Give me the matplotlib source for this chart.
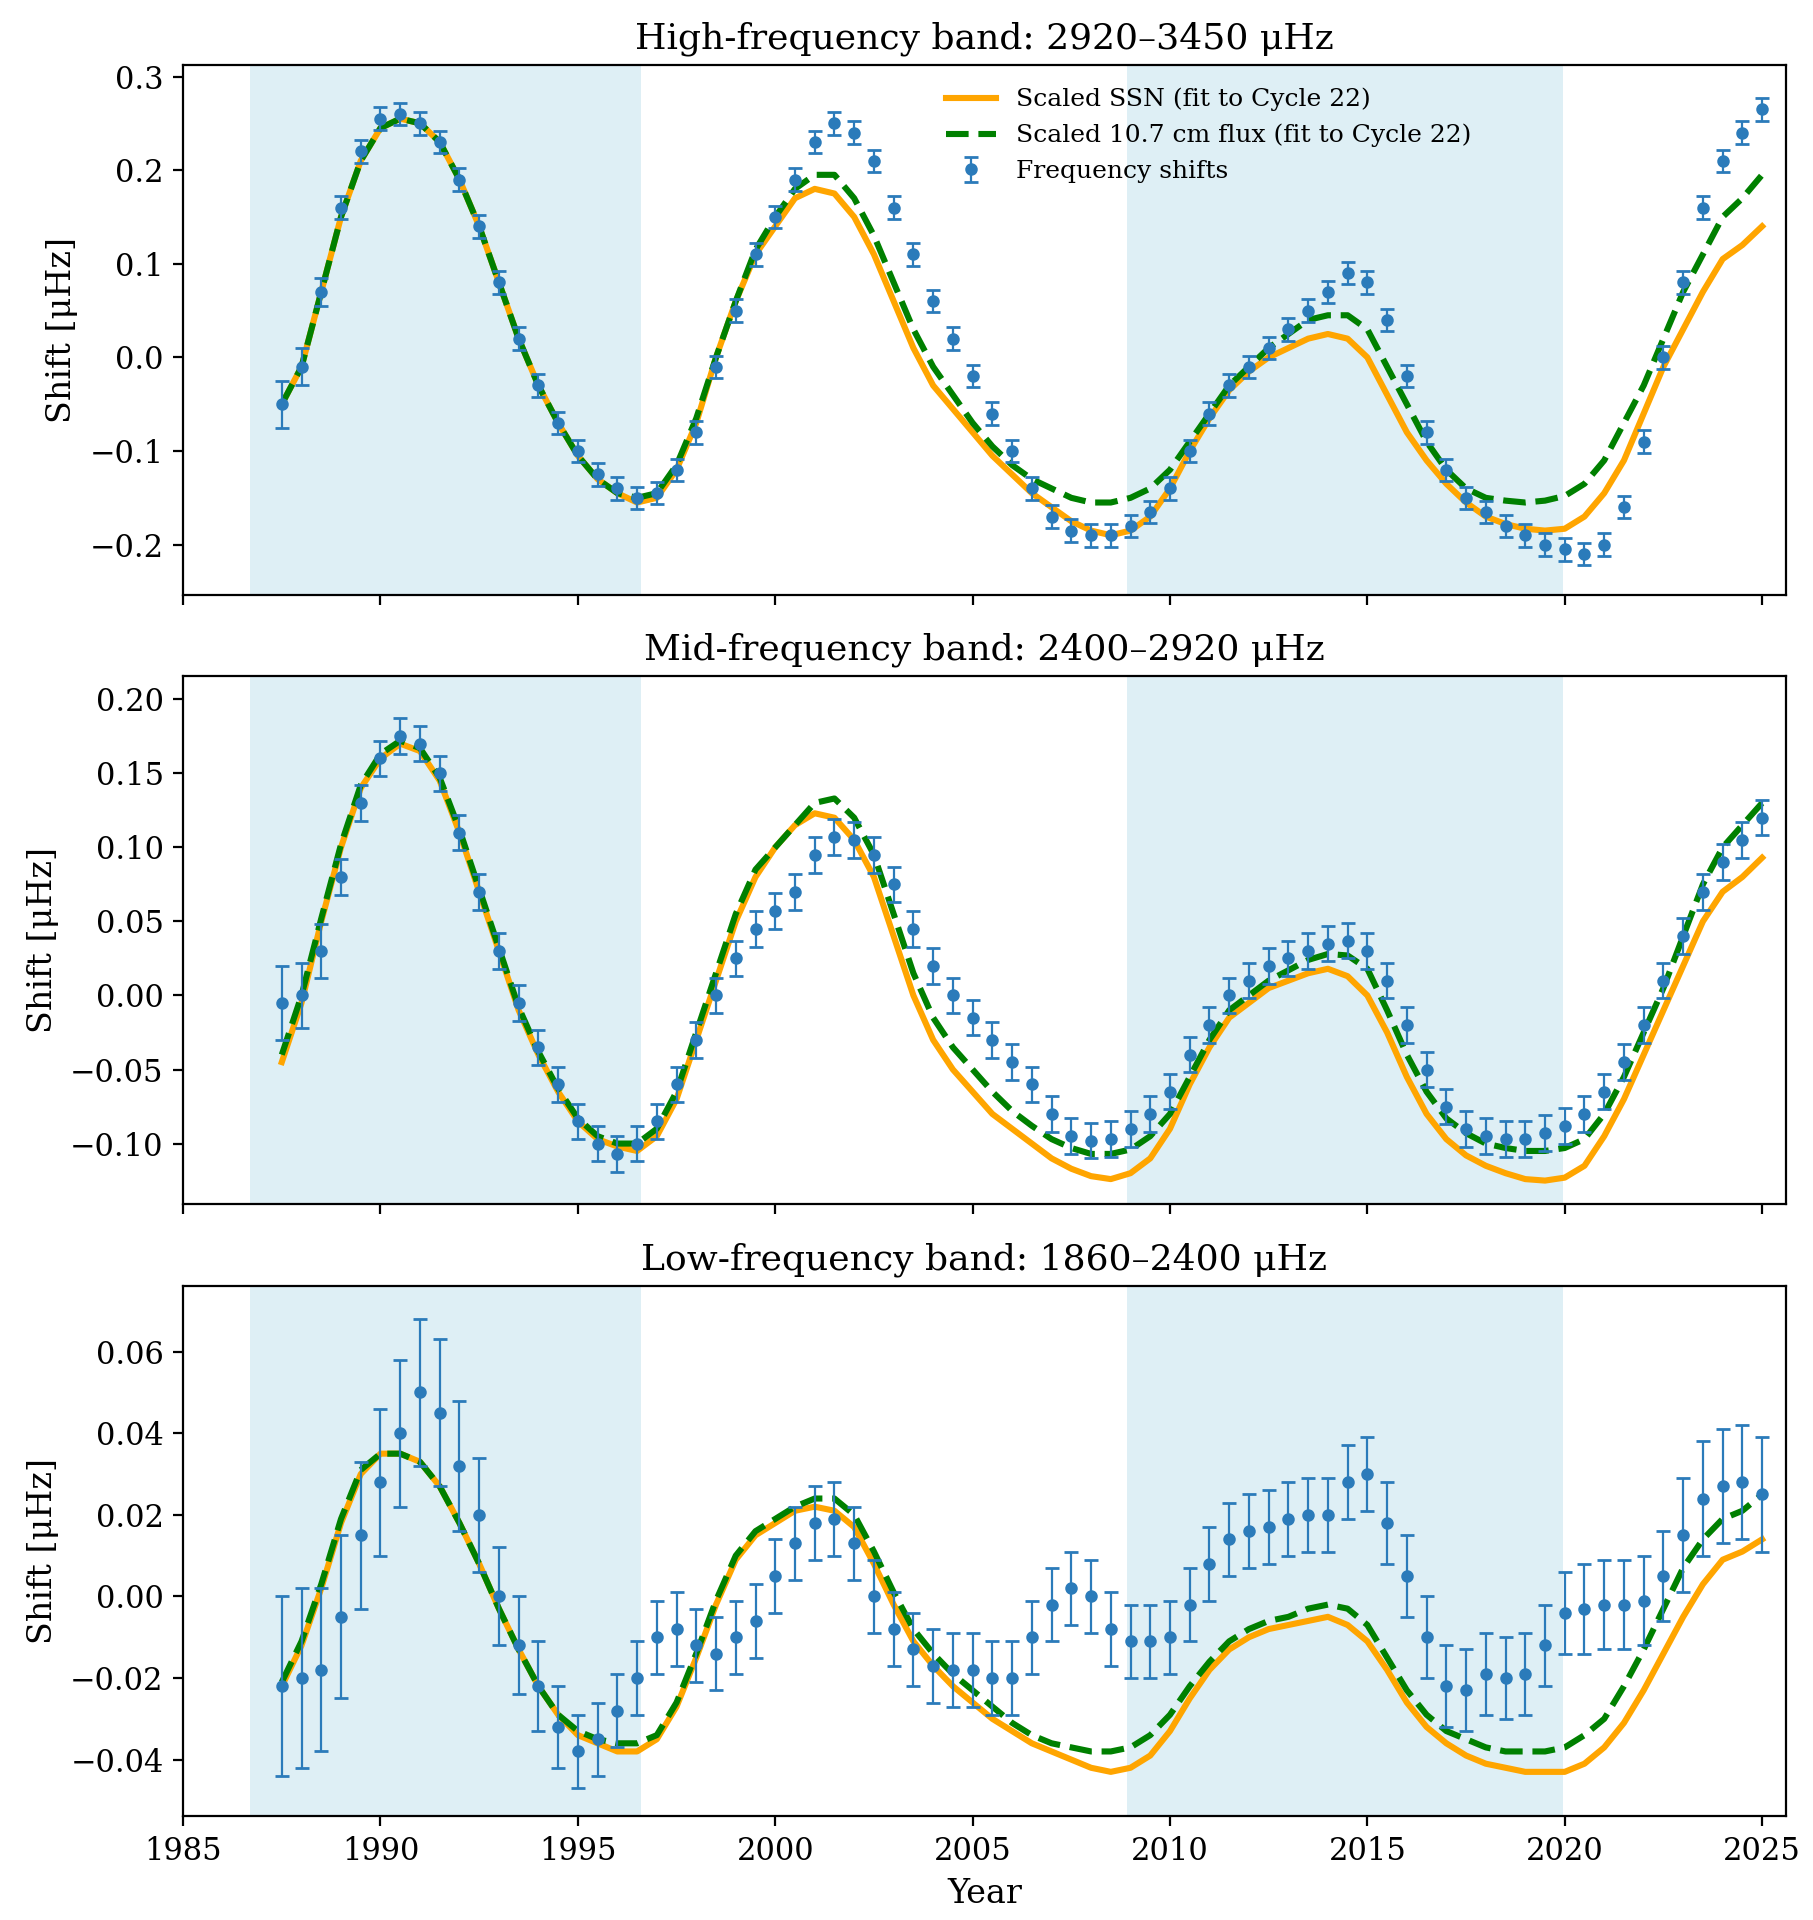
import numpy as np
import matplotlib
matplotlib.use("Agg")
import matplotlib.pyplot as plt

plt.rcParams['font.family'] = ['DejaVu Serif']

years = np.arange(1987.5, 2025.01, 0.5)

hi_shift = [-0.05,-0.01,0.07,0.16,0.22, 0.255,0.26,0.25,0.23,0.19,0.14,0.08,0.02,-0.03,-0.07,
            -0.10,-0.125,-0.14,-0.15,-0.145,-0.12,-0.08,-0.01,0.05,0.11,
            0.15,0.19,0.23,0.25,0.24,0.21,0.16,0.11,0.06,0.02,
            -0.02,-0.06,-0.10,-0.14,-0.17,-0.185,-0.19,-0.19,-0.18,-0.165,
            -0.14,-0.10,-0.06,-0.03,-0.01,0.01,0.03,0.05,0.07,0.09,
            0.08,0.04,-0.02,-0.08,-0.12,-0.15,-0.165,-0.18,-0.19,-0.2,
            -0.205,-0.21,-0.2,-0.16,-0.09,0.0,0.08,0.16,0.21,0.24,0.265]
hi_ssn = [-0.05,-0.01,0.07,0.15,0.21, 0.245,0.255,0.25,0.23,0.19,0.14,0.08,0.02,-0.03,-0.07,
          -0.105,-0.13,-0.145,-0.155,-0.15,-0.12,-0.07,0.0,0.06,0.11,
          0.14,0.17,0.18,0.175,0.15,0.11,0.06,0.01,-0.03,-0.055,
          -0.08,-0.105,-0.125,-0.145,-0.16,-0.175,-0.185,-0.19,-0.185,-0.17,
          -0.14,-0.10,-0.065,-0.035,-0.015,0.0,0.01,0.02,0.025,0.02,
          0.0,-0.04,-0.08,-0.11,-0.135,-0.155,-0.17,-0.178,-0.183,-0.185,
          -0.183,-0.17,-0.145,-0.11,-0.06,-0.01,0.03,0.07,0.105,0.12,0.14]
hi_flux = [-0.05,-0.01,0.07,0.15,0.21, 0.245,0.255,0.25,0.23,0.19,0.14,0.08,0.02,-0.03,-0.07,
           -0.105,-0.13,-0.145,-0.15,-0.145,-0.115,-0.065,0.0,0.06,0.115,
           0.15,0.18,0.195,0.195,0.17,0.13,0.08,0.03,-0.01,-0.04,
           -0.07,-0.095,-0.115,-0.13,-0.14,-0.15,-0.155,-0.155,-0.15,-0.14,
           -0.12,-0.09,-0.06,-0.03,-0.01,0.01,0.025,0.04,0.045,0.045,
           0.03,-0.01,-0.05,-0.09,-0.12,-0.14,-0.15,-0.153,-0.155,-0.153,
           -0.148,-0.135,-0.11,-0.07,-0.03,0.02,0.07,0.11,0.15,0.17,0.195]

mid_shift = [-0.005,0.0,0.03,0.08,0.13, 0.16,0.175,0.17,0.15,0.11,0.07,0.03,-0.005,-0.035,-0.06,
             -0.085,-0.1,-0.107,-0.1,-0.085,-0.06,-0.03,0.0,0.025,0.045,
             0.057,0.07,0.095,0.107,0.105,0.095,0.075,0.045,0.02,0.0,
             -0.015,-0.03,-0.045,-0.06,-0.08,-0.095,-0.098,-0.097,-0.09,-0.08,
             -0.065,-0.04,-0.02,0.0,0.01,0.02,0.025,0.03,0.035,0.037,
             0.03,0.01,-0.02,-0.05,-0.075,-0.09,-0.095,-0.097,-0.097,-0.093,
             -0.088,-0.08,-0.065,-0.045,-0.02,0.01,0.04,0.07,0.09,0.105,0.12]
mid_ssn = [-0.045,-0.005,0.05,0.1,0.14, 0.16,0.17,0.165,0.145,0.11,0.07,0.03,-0.01,-0.04,-0.065,
           -0.085,-0.097,-0.102,-0.105,-0.095,-0.07,-0.03,0.01,0.05,0.08,
           0.1,0.115,0.123,0.12,0.105,0.08,0.04,0.0,-0.03,-0.05,
           -0.065,-0.08,-0.09,-0.1,-0.11,-0.117,-0.122,-0.124,-0.12,-0.11,
           -0.09,-0.06,-0.035,-0.015,-0.005,0.005,0.01,0.015,0.018,0.013,
           0.0,-0.025,-0.055,-0.08,-0.097,-0.108,-0.115,-0.12,-0.124,-0.125,
           -0.123,-0.115,-0.095,-0.07,-0.04,-0.01,0.02,0.05,0.07,0.08,0.093]
mid_flux = [-0.04,0.0,0.052,0.102,0.142, 0.163,0.172,0.167,0.147,0.112,0.072,0.032,-0.008,-0.038,-0.063,
            -0.083,-0.095,-0.1,-0.1,-0.09,-0.065,-0.025,0.015,0.055,0.085,
            0.1,0.115,0.13,0.133,0.12,0.095,0.055,0.015,-0.015,-0.035,
            -0.05,-0.065,-0.078,-0.088,-0.097,-0.103,-0.107,-0.107,-0.104,-0.095,
            -0.08,-0.055,-0.03,-0.01,0.0,0.01,0.017,0.024,0.028,0.027,
            0.018,-0.01,-0.04,-0.065,-0.083,-0.093,-0.1,-0.103,-0.105,-0.105,
            -0.103,-0.097,-0.08,-0.055,-0.025,0.005,0.04,0.075,0.1,0.115,0.13]

low_shift = [-0.022,-0.02,-0.018,-0.005,0.015, 0.028,0.04,0.05,0.045,0.032,0.02,0.0,-0.012,-0.022,-0.032,
             -0.038,-0.035,-0.028,-0.02,-0.01,-0.008,-0.012,-0.014,-0.01,-0.006,
             0.005,0.013,0.018,0.019,0.013,0.0,-0.008,-0.013,-0.017,-0.018,
             -0.018,-0.02,-0.02,-0.01,-0.002,0.002,0.0,-0.008,-0.011,-0.011,
             -0.01,-0.002,0.008,0.014,0.016,0.017,0.019,0.02,0.02,0.028,
             0.03,0.018,0.005,-0.01,-0.022,-0.023,-0.019,-0.02,-0.019,-0.012,
             -0.004,-0.003,-0.002,-0.002,-0.001,0.005,0.015,0.024,0.027,0.028,0.025]
low_ssn = [-0.022,-0.012,0.002,0.018,0.03, 0.035,0.035,0.033,0.027,0.018,0.008,-0.003,-0.013,-0.022,-0.029,
           -0.034,-0.036,-0.038,-0.038,-0.035,-0.027,-0.015,-0.002,0.009,0.015,
           0.018,0.021,0.022,0.021,0.017,0.008,-0.002,-0.011,-0.017,-0.022,
           -0.026,-0.03,-0.033,-0.036,-0.038,-0.04,-0.042,-0.043,-0.042,-0.039,
           -0.033,-0.025,-0.018,-0.013,-0.01,-0.008,-0.007,-0.006,-0.005,-0.007,
           -0.011,-0.018,-0.026,-0.032,-0.036,-0.039,-0.041,-0.042,-0.043,-0.043,
           -0.043,-0.041,-0.037,-0.031,-0.023,-0.014,-0.005,0.003,0.009,0.011,0.014]
low_flux = [-0.021,-0.011,0.003,0.019,0.031, 0.035,0.035,0.033,0.027,0.018,0.008,-0.003,-0.013,-0.022,-0.029,
            -0.033,-0.035,-0.036,-0.036,-0.034,-0.026,-0.014,-0.001,0.01,0.016,
            0.019,0.022,0.024,0.024,0.02,0.011,0.001,-0.008,-0.014,-0.019,
            -0.023,-0.027,-0.031,-0.034,-0.036,-0.037,-0.038,-0.038,-0.037,-0.034,
            -0.029,-0.022,-0.016,-0.011,-0.008,-0.006,-0.005,-0.003,-0.002,-0.003,
            -0.007,-0.015,-0.023,-0.029,-0.033,-0.035,-0.037,-0.038,-0.038,-0.038,
            -0.037,-0.034,-0.03,-0.022,-0.013,-0.003,0.007,0.014,0.019,0.021,0.025]

hi_err = [0.025,0.02,0.015] + [0.012]*73
mid_err = [0.025,0.022,0.018] + [0.012]*73
low_err = ([0.022,0.022,0.02,0.02,0.018, 0.018,0.018,0.018,0.018,0.016, 0.014,0.012,0.012,0.011,0.01]
           + [0.009]*41 + [0.01]*10 + [0.011]*5 + [0.014]*5)

titles = ["High-frequency band: 2920–3450 μHz",
          "Mid-frequency band: 2400–2920 μHz",
          "Low-frequency band: 1860–2400 μHz"]
panels = [(hi_shift, hi_ssn, hi_flux, hi_err, (-0.254, 0.312)),
          (mid_shift, mid_ssn, mid_flux, mid_err, (-0.1407, 0.2158)),
          (low_shift, low_ssn, low_flux, low_err, (-0.0539, 0.076))]
shade = [(1986.7, 1996.6), (2008.9, 2019.95)]

fig = plt.figure(figsize=(9.065, 9.6), dpi=200)
bounds = [(0.690, 0.966), (0.373, 0.648), (0.054, 0.330)]
axes = []
for i, ((b, t), (sh, ssn, fl, err, yl)) in enumerate(zip(bounds, panels)):
    ax = fig.add_axes([0.101, b, 0.884, t - b], sharex=axes[0] if axes else None)
    axes.append(ax)
    for s0, s1 in shade:
        ax.axvspan(s0, s1, color='lightblue', alpha=0.4, lw=0)
    ax.plot(years, ssn, color='orange', lw=2.2, label='Scaled SSN (fit to Cycle 22)', zorder=3)
    ax.plot(years, fl, color='green', lw=2.2, ls='--', label='Scaled 10.7 cm flux (fit to Cycle 22)', zorder=4)
    ax.errorbar(years, sh, yerr=err, fmt='o', ms=3.5, color='#2b7bba', ecolor='#2b7bba',
                elinewidth=0.8, capsize=2.5, label='Frequency shifts', zorder=5)
    ax.set_ylim(*yl)
    ax.set_ylabel('Shift [μHz]', fontsize=12)
    ax.set_title(titles[i], fontsize=13)
    ax.tick_params(labelsize=11)
    if i < 2:
        ax.tick_params(labelbottom=False)
    if i == 0:
        ax.legend(loc='upper center', bbox_to_anchor=(0.64, 1.0), frameon=False, fontsize=9)
axes[0].set_xlim(1985, 2025.6)
axes[0].set_xticks(np.arange(1985, 2026, 5))
axes[2].set_xlabel('Year', fontsize=12)
fig.savefig('out.png', dpi=200)
